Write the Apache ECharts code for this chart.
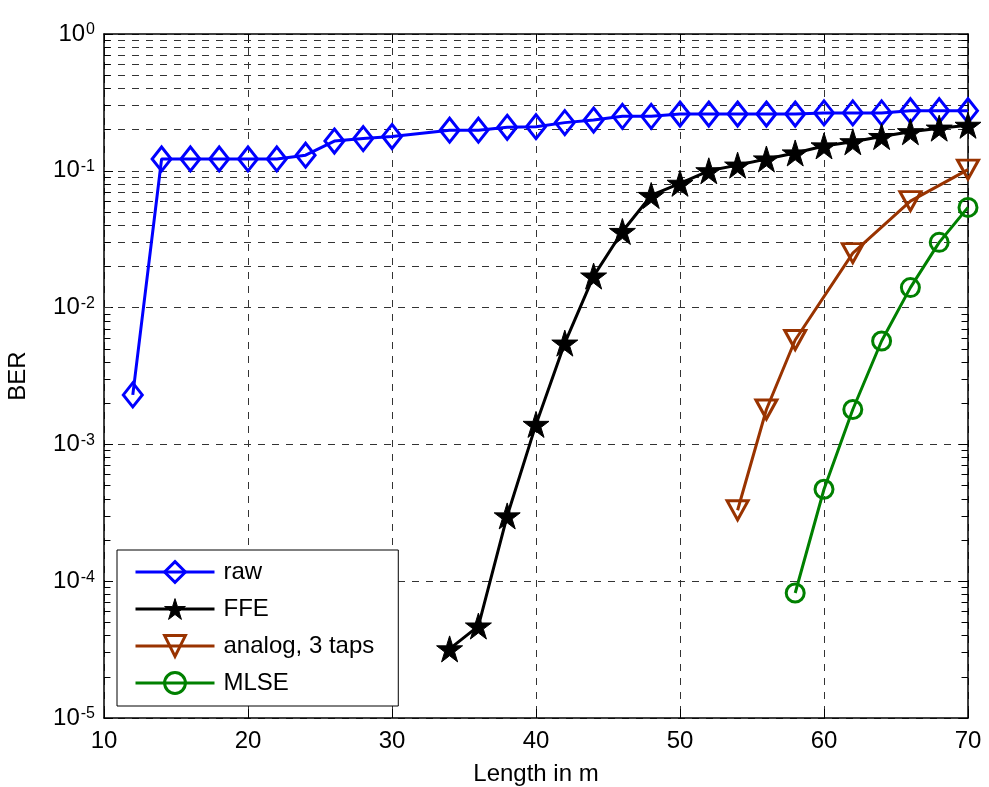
<!DOCTYPE html>
<html><head><meta charset="utf-8">
<script src="https://cdn.jsdelivr.net/npm/echarts@6/dist/echarts.min.js"></script>
<style>html,body{margin:0;padding:0;background:#fff}#c{width:989px;height:787px}</style>
</head><body><div id="c"></div>
<script>
const rawX = [12,14,16,18,20,22,24,26,28,30,34,36,38,40,42,44,46,48,50,52,54,56,58,60,62,64,66,68,70];
const rawY = [0.0023,0.122,0.122,0.122,0.122,0.122,0.130,0.165,0.172,0.178,0.198,0.198,0.208,0.21,0.225,0.235,0.25,0.25,0.26,0.26,0.26,0.26,0.26,0.265,0.265,0.265,0.275,0.275,0.275];
const ffeX = [34,36,38,40,42,44,46,48,50,52,54,56,58,60,62,64,66,68,70];
const ffeY = [3.2e-5,4.7e-5,3.0e-4,1.4e-3,5.5e-3,0.017,0.036,0.066,0.081,0.100,0.110,0.122,0.135,0.152,0.163,0.178,0.193,0.205,0.215];
const anaX = [54,56,58,62,66,70];
const anaY = [3.3e-4,1.8e-3,5.8e-3,0.025,0.060,0.102];
const mlseX = [58,60,62,64,66,68,70];
const mlseY = [8.2e-5,4.7e-4,1.8e-3,5.7e-3,0.014,0.030,0.054];
const names = ['raw','FFE','analog, 3 taps','MLSE'];
const colors = ['#0000ff','#000000','#993300','#008000'];
const xTicks = [10,20,30,40,50,60,70];

const FONT = 'Liberation Sans, Arial, Helvetica, sans-serif';
const FS = 24;
const pair = (xs, ys) => xs.map((x,i)=>[x, ys[i]]);
const STAR = 'path://M50 0L61.17 34.63L97.55 34.55L68.07 55.87L79.39 90.45L50 69L20.61 90.45L31.93 55.87L2.45 34.55L38.83 34.63Z';
const TRI = 'path://M0 0L100 0L50 90Z';

const minorVals = [];
for (let e=-5; e<0; e++) for (let k=2; k<=9; k++) minorVals.push(k*Math.pow(10,e));
const dash = [7,7];
const gridMark = minorVals.map(v=>({yAxis:v}));
const tickMark = [];
minorVals.forEach(v=>{
  tickMark.push([{coord:[10,v]},{coord:[10.45,v]}]);
  tickMark.push([{coord:[69.55,v]},{coord:[70,v]}]);
});

const chart = echarts.init(document.getElementById('c'), null, {renderer:'canvas'});
function mkSeries(name, data, color, symbol, size, hollow){
  return {
    name, type:'line', data, symbol, symbolSize:size, showSymbol:true,
    xAxisIndex:0, yAxisIndex:0, z:5,
    lineStyle:{color, width:3},
    itemStyle: hollow ? {color:'rgba(255,255,255,0)', borderColor:color, borderWidth:3} : {color, borderColor:color, borderWidth:1},
    color, emphasis:{disabled:true}, animation:false
  };
}
const yLabel = {
  show:true, margin:9, align:'right',
  formatter: v => '{b|10}{s|' + Math.round(Math.log10(v)) + '}',
  rich:{
    b:{fontSize:FS, fontFamily:FONT, color:'#000', lineHeight:FS, verticalAlign:'middle'},
    s:{fontSize:16, fontFamily:FONT, color:'#000', lineHeight:16, padding:[0,0,26,1], verticalAlign:'top'}
  }
};
const legendData = names.map((n,i)=>({
  name:n,
  lineStyle:{width:3, color:colors[i]},
  itemStyle: i===1 ? {color:'#000', borderColor:'#000', borderWidth:1} : {color:'rgba(255,255,255,0)', borderColor:colors[i], borderWidth:3}
}));
chart.setOption({
  animation:false,
  backgroundColor:'#fff',
  grid:{left:104, right:21, top:34, bottom:69, containLabel:false, outerBoundsMode:'none'},
  legend:{
    orient:'vertical', left:117, top:550, padding:[10,24,11,17], itemGap:13,
    itemWidth:79, itemHeight:26, backgroundColor:'#fff', borderColor:'#000', borderWidth:1,
    textStyle:{fontSize:FS, fontFamily:FONT, color:'#000', padding:[0,0,0,4]}, data:legendData, selectedMode:false
  },
  xAxis:[{
    type:'value', min:10, max:70, interval:10, position:'bottom',
    name:'Length in m', nameLocation:'middle', nameGap:44,
    nameTextStyle:{fontSize:FS, fontFamily:FONT, color:'#000'},
    axisLine:{show:true, lineStyle:{color:'#000', width:1.5}},
    axisTick:{show:true, inside:true, length:9, lineStyle:{color:'#000', width:1}},
    axisLabel:{fontSize:FS, fontFamily:FONT, color:'#000', margin:11, formatter: v => xTicks.includes(v) ? String(v) : ''},
    splitLine:{show:true, lineStyle:{color:'#333', type:dash, width:1}}
  },{
    type:'value', min:10, max:70, interval:10, position:'top',
    axisLine:{show:true, onZero:false, lineStyle:{color:'#000', width:1.5}},
    axisTick:{show:true, inside:true, length:9, lineStyle:{color:'#000'}},
    axisLabel:{show:false}, splitLine:{show:false}
  }],
  yAxis:[{
    type:'log', logBase:10, min:1e-5, max:1, interval:1, position:'left',
    name:'BER', nameLocation:'middle', nameGap:74, nameRotate:90,
    nameTextStyle:{fontSize:FS, fontFamily:FONT, color:'#000'},
    axisLine:{show:true, lineStyle:{color:'#000', width:1.5}},
    axisTick:{show:true, inside:true, length:9, lineStyle:{color:'#000'}},
    axisLabel: yLabel,
    splitLine:{show:true, lineStyle:{color:'#333', type:dash, width:1}}
  },{
    type:'log', logBase:10, min:1e-5, max:1, interval:1, position:'right',
    axisLine:{show:true, onZero:false, lineStyle:{color:'#000', width:1.5}},
    axisTick:{show:true, inside:true, length:9, lineStyle:{color:'#000'}},
    axisLabel:{show:false}, splitLine:{show:false}
  }],
  series:[
    {type:'line', data:[], silent:true, z:1, animation:false,
     markLine:{silent:true, symbol:'none', label:{show:false}, animation:false,
       lineStyle:{color:'#333', type:dash, width:1}, data:gridMark}},
    {type:'line', data:[], silent:true, z:2, animation:false,
     markLine:{silent:true, symbol:'none', label:{show:false}, animation:false,
       lineStyle:{color:'#000', type:'solid', width:1}, data:tickMark}},
    mkSeries(names[0], pair(rawX, rawY), colors[0], 'diamond', [19,24], true),
    mkSeries(names[1], pair(ffeX, ffeY), colors[1], STAR, 26, false),
    mkSeries(names[2], pair(anaX, anaY), colors[2], TRI, [21,19], true),
    mkSeries(names[3], pair(mlseX, mlseY), colors[3], 'circle', 18, true)
  ]
});
</script></body></html>
